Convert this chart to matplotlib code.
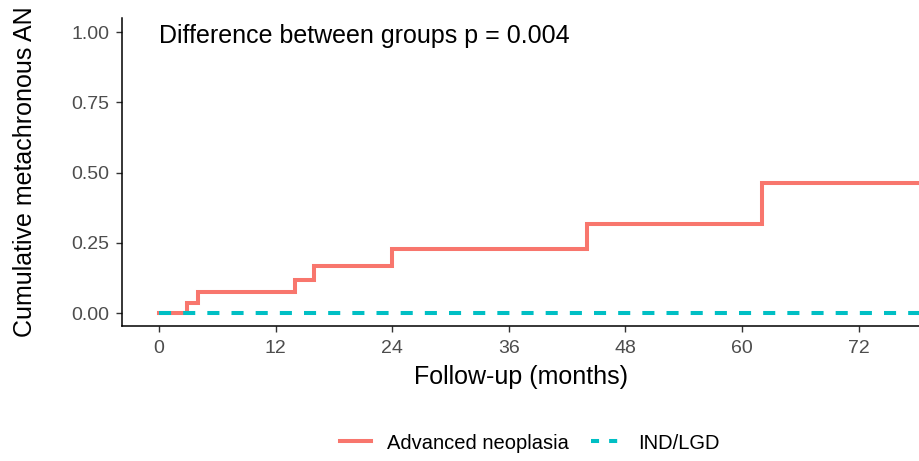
import matplotlib.pyplot as plt
from matplotlib.lines import Line2D

plt.rcParams['font.family'] = ['Liberation Sans', 'DejaVu Sans']

# Kaplan-Meier style cumulative incidence, step times (months) and levels
an_times = [0, 2.85, 4.0, 14.0, 16.0, 24.0, 44.0, 62.0, 80.0]
an_cum = [0, 0.035, 0.074, 0.117, 0.168, 0.228, 0.318, 0.464, 0.464]
ind_times = [0, 80.0]
ind_cum = [0, 0]

groups = ['Advanced neoplasia', 'IND/LGD']
colors = ['#F8766D', '#00BFC4']
xticks = [0, 12, 24, 36, 48, 60, 72]
yticks = [0.0, 0.25, 0.5, 0.75, 1.0]

fig = plt.figure(figsize=(9.2, 4.61), dpi=100)
ax = fig.add_axes([122 / 920, 1 - 326 / 461, 1 - 122 / 920, (326 - 18) / 461])

ax.step(an_times, an_cum, where='post', color=colors[0], lw=2.9,
        solid_joinstyle='miter')
ax.plot(ind_times, ind_cum, color=colors[1], lw=2.9, dashes=(3, 3),
        dash_capstyle='butt')

ax.set_xlim(-3.8, 78.3)
ax.set_ylim(-0.046, 1.05)
ax.set_xticks(xticks)
ax.set_yticks(yticks)
ax.set_yticklabels([f'{v:.2f}' for v in yticks])
ax.tick_params(colors='#333333', labelcolor='#4D4D4D', labelsize=14,
               length=4, width=1)
ax.tick_params(axis='y', pad=5)
ax.tick_params(axis='x', pad=6)
for s in ['top', 'right']:
    ax.spines[s].set_visible(False)
for s in ['left', 'bottom']:
    ax.spines[s].set_linewidth(1.1)
    ax.spines[s].set_color('black')

ax.set_xlabel('Follow-up (months)', fontsize=18, labelpad=6)
ax.set_ylabel('Cumulative metachronous AN', fontsize=18, labelpad=25)
ax.text(0, 0.985, 'Difference between groups p = 0.004', fontsize=18,
        ha='left', va='center')

handles = [Line2D([], [], color=colors[0], lw=2.9),
           Line2D([], [], color=colors[1], lw=2.9, dashes=(2, 2.5))]
fig.legend(handles, groups, loc='center', bbox_to_anchor=(530 / 920, 1 - 443 / 461),
           ncol=2, frameon=False, fontsize=14.5, handlelength=1.55,
           handletextpad=0.8, columnspacing=1.1)

fig.savefig('out.png', dpi=100)
